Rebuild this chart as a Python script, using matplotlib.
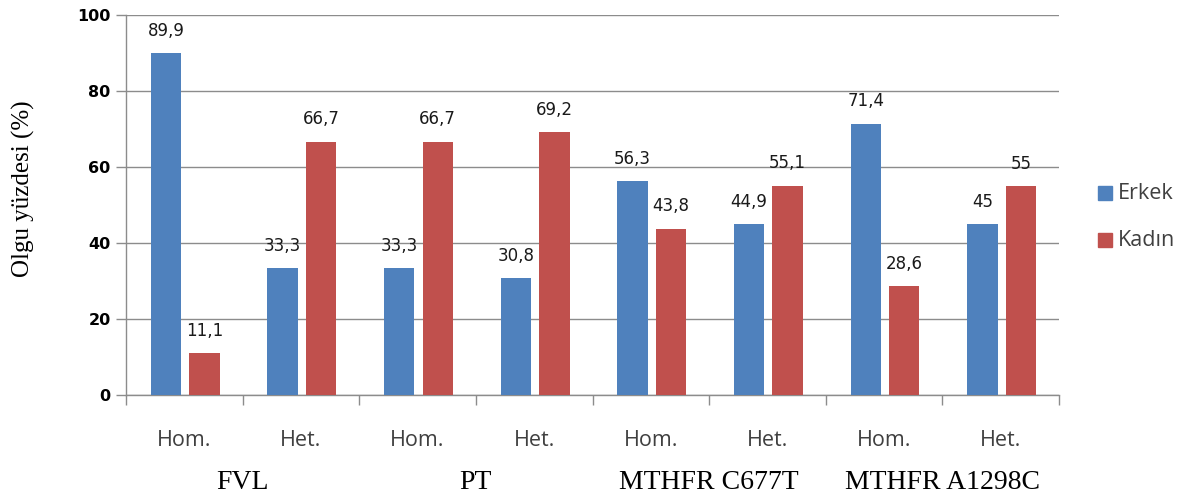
import matplotlib
matplotlib.use("Agg")
import matplotlib.pyplot as plt
import numpy as np
from matplotlib.patches import Rectangle

categories = ["Hom.", "Het.", "Hom.", "Het.", "Hom.", "Het.", "Hom.", "Het."]
groups = ["FVL", "PT", "MTHFR C677T", "MTHFR A1298C"]
erkek = [89.9, 33.3, 33.3, 30.8, 56.3, 44.9, 71.4, 45]
kadin = [11.1, 66.7, 66.7, 69.2, 43.8, 55.1, 28.6, 55]
series_names = ["Erkek", "Kadın"]
yticks = [0, 20, 40, 60, 80, 100]

BLUE = "#4F81BD"
RED = "#C0504D"
GRID = "#8C8C8C"

def fmt(v):
    s = f"{v:g}"
    return s.replace(".", ",")

fig = plt.figure(figsize=(11.91, 4.95), dpi=100)
ax = fig.add_axes([126 / 1191, 1 - 395 / 495, (1059 - 126) / 1191, (395 - 15) / 495])

x = np.arange(len(categories))
w = 0.26
off = 0.165
cx = x + 0.008
b1 = ax.bar(cx - off, erkek, w, color=BLUE, zorder=3)
b2 = ax.bar(cx + off, kadin, w, color=RED, zorder=3)

for bars, vals in ((b1, erkek), (b2, kadin)):
    for r, v in zip(bars, vals):
        ax.annotate(fmt(v), (r.get_x() + r.get_width() / 2, v), xytext=(0, 16),
                    textcoords="offset points", ha="center", va="center",
                    fontsize=12, family="DejaVu Sans", color="#1a1a1a")

ax.set_xlim(-0.5, len(categories) - 0.5)
ax.set_ylim(0, 100)
ax.set_yticks(yticks)
ax.set_yticklabels([str(t) for t in yticks], fontsize=11.5, fontweight="bold",
                   family="DejaVu Sans")
ax.yaxis.grid(True, color=GRID, linewidth=1, zorder=0)
ax.tick_params(axis="y", length=7, color=GRID, width=1, pad=4)

ax.set_xticks(x)
ax.set_xticklabels(categories, fontsize=15.5, family="Open Sans", color="#404040")
ax.tick_params(axis="x", which="major", length=0, pad=25)
ax.set_xticks(np.arange(-0.5, len(categories), 1), minor=True)
ax.tick_params(axis="x", which="minor", length=7, color=GRID, width=1)

for s in ("top", "right"):
    ax.spines[s].set_visible(False)
for s in ("left", "bottom"):
    ax.spines[s].set_color(GRID)
    ax.spines[s].set_linewidth(1)

fig.text(23 / 1191, 1 - 189 / 495, "Olgu yüzdesi (%)", rotation=90, ha="center",
         va="center", family="Liberation Serif", fontsize=18)

# group labels beneath each pair of categories
for i, g in enumerate(groups):
    xd = 2 * i + 0.5
    xf = fig.transFigure.inverted().transform(ax.transData.transform((xd, 0)))[0]
    fig.text(xf, 1 - 470 / 495, g, ha="center", va="top",
             family="Liberation Serif", fontsize=20, color="black")

# legend
for name, col, yc in ((series_names[0], BLUE, 193), (series_names[1], RED, 240)):
    fig.patches.append(Rectangle((1098 / 1191, 1 - (yc + 7) / 495), 14 / 1191, 14 / 495,
                                 transform=fig.transFigure, color=col))
    fig.text(1118 / 1191, 1 - yc / 495, name, ha="left", va="center",
             family="Open Sans", fontsize=15.5, color="#404040")

fig.savefig("out.png", dpi=100)
